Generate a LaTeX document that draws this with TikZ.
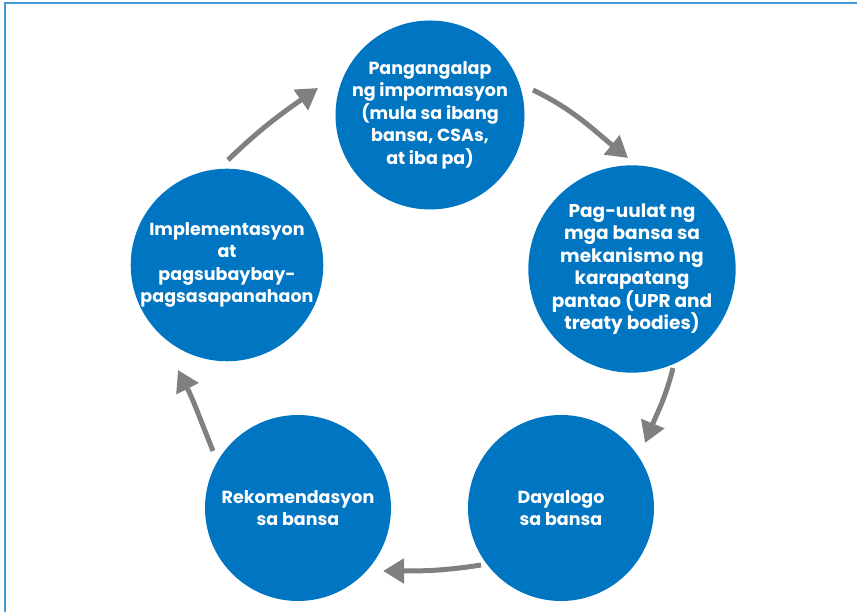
\documentclass[tikz,border=0pt]{standalone}
\usepackage{fontspec}
\setmainfont{Poppins}
\usetikzlibrary{calc, arrows.meta}
\definecolor{cycleblue}{RGB}{0,117,193}
\definecolor{framecol}{RGB}{66,154,214}
\definecolor{arrowgray}{RGB}{128,128,128}

\begin{document}
\begin{tikzpicture}[x=1pt, y=1pt,
    stage/.style={circle, fill=cycleblue, minimum size=186pt, inner sep=0pt, outer sep=0pt,
        text=white, align=center, font=\fontsize{17.5}{22.5}\selectfont\bfseries},
    flow/.style={draw=arrowgray, line width=5pt, -{Triangle[length=21pt, width=24pt]}}]
    \useasboundingbox (0,0) rectangle (857,612);
    \draw[framecol, line width=2.5pt] (5,0) -- (5,609) -- (857,609);

    \node[stage] (top) at (430,497) {Pangangalap\\ng impormasyon\\(mula sa ibang\\bansa, CSAs,\\at iba pa)};
    \node[stage, font=\fontsize{18.5}{22.5}\selectfont\bfseries] (right) at (632,343) {Pag-uulat ng\\mga bansa sa\\mekanismo ng\\karapatang\\pantao (UPR and\\treaty bodies)};
    \node[stage] (botright) at (561,104) {Dayalogo\\sa bansa};
    \node[stage] (botleft) at (298,104) {Rekomendasyon\\sa bansa};
    \node[stage] (left) at (227,347) {Implementasyon\\at\\pagsubaybay-\\pagsasapanahaon};

    \coordinate (a1s) at ($(top)+(103,25)$);
    \coordinate (a1e) at ($(right)+(-4,111)$);
    \coordinate (a2s) at ($(right)+(41,-99)$);
    \coordinate (a2e) at ($(botright)+(84,65)$);
    \coordinate (a3s) at ($(botright)+(-80,-57)$);
    \coordinate (a3e) at ($(botleft)+(85,-63)$);
    \coordinate (a4s) at ($(botleft)+(-85,57)$);
    \coordinate (a4e) at ($(left)+(-49,-105)$);
    \coordinate (a5s) at ($(left)+(1,105)$);
    \coordinate (a5e) at ($(top)+(-112,27)$);

    \draw[flow] (a1s) to[out=-26, in=141] (a1e);
    \draw[flow] (a2s) to[out=256, in=68] (a2e);
    \draw[flow] (a3s) to[out=189, in=0] (a3e);
    \draw[flow] (a4s) to[out=112, in=297] (a4e);
    \draw[flow] (a5s) to[out=44, in=215] (a5e);
\end{tikzpicture}
\end{document}
